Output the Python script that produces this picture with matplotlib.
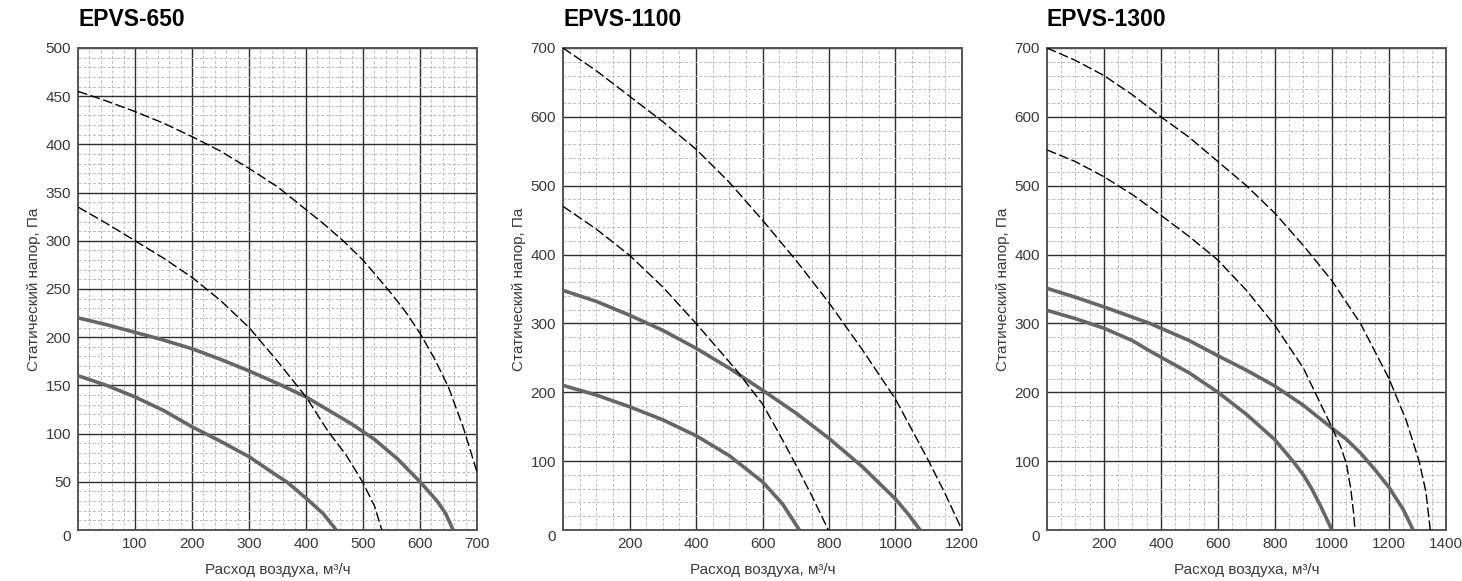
import numpy as np
import matplotlib
matplotlib.use("Agg")
import matplotlib.pyplot as plt
import matplotlib.transforms as mtransforms
from matplotlib.ticker import MultipleLocator

plt.rcParams['font.family'] = ['Liberation Sans', 'DejaVu Sans']

# EPVS-650
x650_d1 = [0, 50, 100, 150, 200, 250, 300, 350, 390, 430, 465, 500, 550, 575, 600, 625, 650, 676, 700]
y650_d1 = [455, 445, 434, 422, 408, 393, 375, 356, 337, 318, 300, 280, 245, 226, 204, 178, 148, 106, 60]
x650_d2 = [0, 50, 100, 150, 200, 250, 300, 350, 400, 439, 470, 499, 520, 533]
y650_d2 = [335, 318, 300, 282, 262, 238, 210, 175, 138, 102, 78, 50, 25, 0]
x650_s1 = [0, 50, 100, 150, 200, 250, 300, 350, 400, 440, 480, 520, 560, 600, 630, 645, 658]
y650_s1 = [220, 213, 205, 197, 188, 177, 165, 152, 138, 124, 110, 94, 74, 50, 30, 17, 0]
x650_s2 = [0, 50, 100, 150, 200, 250, 300, 350, 366, 400, 430, 453]
y650_s2 = [160, 150, 138, 124, 107, 92, 76, 56, 50, 33, 17, 0]

# EPVS-1100
x1100_d1 = [0, 100, 200, 300, 400, 500, 600, 700, 800, 900, 1000, 1100, 1150, 1200]
y1100_d1 = [700, 667, 630, 593, 553, 505, 450, 392, 330, 262, 190, 100, 52, 0]
x1100_d2 = [0, 100, 200, 300, 400, 520, 600, 650, 700, 750, 798]
y1100_d2 = [470, 437, 399, 353, 300, 233, 183, 140, 95, 48, 0]
x1100_s1 = [0, 100, 200, 300, 400, 500, 600, 700, 800, 900, 1000, 1040, 1074]
y1100_s1 = [348, 332, 312, 290, 264, 235, 203, 170, 133, 92, 45, 22, 0]
x1100_s2 = [0, 100, 200, 300, 400, 500, 600, 660, 711]
y1100_s2 = [210, 196, 179, 160, 137, 108, 70, 38, 0]

# EPVS-1300
x1300_d1 = [0, 100, 200, 300, 400, 500, 600, 700, 800, 900, 1000, 1100, 1200, 1260, 1306, 1330, 1345]
y1300_d1 = [700, 682, 660, 632, 600, 570, 535, 500, 460, 413, 362, 300, 220, 160, 100, 55, 0]
x1300_d2 = [0, 100, 200, 300, 400, 500, 600, 700, 800, 900, 993, 1030, 1051, 1066, 1076, 1081]
y1300_d2 = [552, 535, 513, 487, 457, 426, 392, 348, 297, 235, 155, 122, 96, 60, 25, 0]
x1300_s1 = [0, 100, 200, 361, 500, 600, 700, 800, 900, 1000, 1050, 1100, 1150, 1200, 1250, 1285]
y1300_s1 = [351, 338, 324, 300, 275, 253, 232, 209, 181, 148, 132, 112, 88, 62, 30, 0]
x1300_s2 = [0, 100, 200, 300, 361, 500, 600, 700, 800, 863, 900, 929, 960, 1000]
y1300_s2 = [319, 307, 293, 275, 260, 228, 200, 168, 131, 100, 80, 60, 35, 0]

fig = plt.figure(figsize=(14.62, 5.81), dpi=100)


def panel(left, title, xmax, ymax, xmaj, xmin, ymaj, ymin, dashed, solid):
    ax = fig.add_axes([left, 0.0878, 0.2729, 0.8296])
    ax.set_xlim(0, xmax)
    ax.set_ylim(0, ymax)
    ax.xaxis.set_major_locator(MultipleLocator(xmaj))
    ax.xaxis.set_minor_locator(MultipleLocator(xmin))
    ax.yaxis.set_major_locator(MultipleLocator(ymaj))
    ax.yaxis.set_minor_locator(MultipleLocator(ymin))
    ax.grid(which='minor', color='#bcbcbc', lw=0.7, ls=(0, (3, 2)))
    ax.grid(which='major', color='#2e2e2e', lw=1.0)
    ax.set_axisbelow(True)
    for s in ax.spines.values():
        s.set_color('#555555')
        s.set_linewidth(1.4)
    ax.tick_params(which='both', length=0, labelsize=11, labelcolor='#3a3a3a', pad=5)
    ax.set_xticks(np.arange(xmaj, xmax + 1, xmaj))
    ax.set_xticklabels([str(v) for v in np.arange(xmaj, xmax + 1, xmaj)])
    # "0" sits a bit lower in the original
    for lab in ax.get_yticklabels():
        if lab.get_text() == '0':
            lab.set_transform(lab.get_transform() + mtransforms.ScaledTranslation(0, -0.06, fig.dpi_scale_trans))

    for x, y in solid:
        ax.plot(x, y, color='#666666', lw=2.6, solid_capstyle='butt', solid_joinstyle='round', zorder=3)
    for x, y in dashed:
        ax.plot(x, y, color='black', lw=1.0, dashes=(7, 2.5), zorder=4)

    ax.set_xlabel('Расход воздуха, м³/ч', fontsize=11, color='#3a3a3a', labelpad=9)
    ax.set_ylabel('Статический напор, Па', fontsize=11, color='#3a3a3a', labelpad=3)
    ax.text(0, 1.035, title, transform=ax.transAxes, fontsize=16.5, fontweight='bold', ha='left', va='bottom')
    return ax


panel(0.0534, 'EPVS-650', 700, 500, 100, 20, 50, 10,
      [(x650_d1, y650_d1), (x650_d2, y650_d2)], [(x650_s1, y650_s1), (x650_s2, y650_s2)])
panel(0.3851, 'EPVS-1100', 1200, 700, 200, 50, 100, 20,
      [(x1100_d1, y1100_d1), (x1100_d2, y1100_d2)], [(x1100_s1, y1100_s1), (x1100_s2, y1100_s2)])
panel(0.7161, 'EPVS-1300', 1400, 700, 200, 50, 100, 20,
      [(x1300_d1, y1300_d1), (x1300_d2, y1300_d2)], [(x1300_s1, y1300_s1), (x1300_s2, y1300_s2)])

fig.savefig('out.png', dpi=100)
